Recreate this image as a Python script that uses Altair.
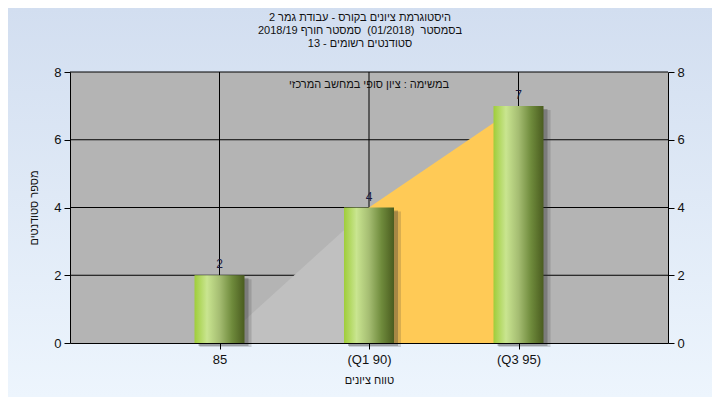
import altair as alt
import pandas as pd

# ---- data ----
categories = ["85", "(Q1 90)", "(Q3 95)"]
counts = [2, 4, 7]
grid_values = [2, 4, 6, 8]
low_shade_cats = ["85", "(Q1 90)"]
low_shade_vals = [0, 4]
mid_shade_cats = ["(Q1 90)", "(Q3 95)"]
mid_shade_vals = [4, 7]

title_lines = [
    "היסטוגרמת ציונים בקורס - עבודת גמר 2",
    "בסמסטר \u00a0(01/2018) \u00a0סמסטר חורף 2018/19",
    "סטודנטים רשומים - 13",
]
note_text = "במשימה : ציון סופי במחשב המרכזי"
x_title = "טווח ציונים"
y_title = "מספר סטודנטים"

W, H = 598, 271
PAD = {"left": 62, "top": 64, "right": 44, "bottom": 54}
FONT = "Liberation Sans"
HEB_SIZE = 11

bars_df = pd.DataFrame({"c": categories, "v": counts})
grid_df = pd.DataFrame({"v": grid_values})
low_df = pd.DataFrame({"c": low_shade_cats, "v": low_shade_vals})
mid_df = pd.DataFrame({"c": mid_shade_cats, "v": mid_shade_vals})
one_df = pd.DataFrame({"k": [0]})

xscale = alt.Scale(type="point", domain=categories, padding=1)
yscale = alt.Scale(domain=[0, 8], nice=False, zero=True)

x_axis = alt.Axis(
    title=x_title, grid=False, domainColor="#000", tickColor="#000", tickSize=6,
    labelFont=FONT, labelFontSize=13, labelColor="#111", labelPadding=4, labelAngle=0,
    titleFont=FONT, titleFontSize=HEB_SIZE, titleFontWeight="normal", titleColor="#111",
    titlePadding=8, zindex=2,
)
y_axis = alt.Axis(
    title=y_title, grid=False, values=[0, 2, 4, 6, 8], domainColor="#000", tickColor="#000",
    tickSize=6, labelFont=FONT, labelFontSize=13, labelColor="#111", labelPadding=3,
    titleFont=FONT, titleFontSize=HEB_SIZE, titleFontWeight="normal", titleColor="#111",
    titlePadding=14, zindex=2,
)
y_axis_r = alt.Axis(
    title=None, orient="right", grid=False, values=[0, 2, 4, 6, 8], domainColor="#000",
    tickColor="#000", tickSize=6, labelFont=FONT, labelFontSize=13, labelColor="#111",
    labelPadding=3, zindex=2,
)

X = alt.X("c:N", scale=xscale, axis=x_axis, sort=categories)
Y = alt.Y("v:Q", scale=yscale, axis=y_axis)

bg = alt.Chart(one_df).mark_rect(
    fill=alt.Gradient(gradient="linear", x1=0, x2=0, y1=0, y2=1,
                      stops=[alt.GradientStop(color="#d2def0", offset=0),
                             alt.GradientStop(color="#edf5fd", offset=1)])
).encode(x=alt.value(-PAD["left"]), x2=alt.value(W + PAD["right"]),
         y=alt.value(-PAD["top"]), y2=alt.value(H + PAD["bottom"]))

plotbg = alt.Chart(one_df).mark_rect(fill="#b4b4b4").encode(
    x=alt.value(0), x2=alt.value(W), y=alt.value(0), y2=alt.value(H))

hgrid = alt.Chart(grid_df).mark_rule(color="#000", strokeWidth=1).encode(y=Y)
vgrid = alt.Chart(bars_df).mark_rule(color="#000", strokeWidth=1).encode(x=X)

low_area = alt.Chart(low_df).mark_area(color="#c0c0c0", opacity=1).encode(x=X, y=Y)
mid_area = alt.Chart(mid_df).mark_area(color="#ffca56", opacity=1).encode(x=X, y=Y)

shadow1 = alt.Chart(bars_df).mark_bar(size=52, color="#303030", opacity=0.18,
                                      xOffset=6, yOffset=4).encode(x=X, y=Y)
shadow2 = alt.Chart(bars_df).mark_bar(size=50, color="#303030", opacity=0.3,
                                      xOffset=4, yOffset=3).encode(x=X, y=Y)

bars = alt.Chart(bars_df).mark_bar(
    size=50,
    fill=alt.Gradient(gradient="linear", x1=0, x2=1, y1=0, y2=0,
                      stops=[alt.GradientStop(color="#9fcd3a", offset=0),
                             alt.GradientStop(color="#c9e590", offset=0.25),
                             alt.GradientStop(color="#a5bd72", offset=0.5),
                             alt.GradientStop(color="#6f8b3c", offset=0.75),
                             alt.GradientStop(color="#4a5c1f", offset=1)]),
).encode(x=X, y=Y)

labels = alt.Chart(bars_df).mark_text(
    font=FONT, fontSize=12, color="#1a1a40", baseline="bottom", dy=-4
).encode(x=X, y=Y, text="v:Q")


def text_layer(txt, cx, cy):
    return alt.Chart(one_df).mark_text(
        font=FONT, fontSize=HEB_SIZE, color="#111", align="center", baseline="middle",
        text=txt,
    ).encode(x=alt.value(cx), y=alt.value(cy))


title_y = [18, 31, 44]
titles = [text_layer(t, 360 - 70, yy - 72) for t, yy in zip(title_lines, title_y)]
note = text_layer(note_text, W / 2, 85 - 72)

inner = alt.layer(bg, plotbg, hgrid, vgrid, low_area, mid_area, shadow1, shadow2,
                  bars, labels, note, *titles)

right = alt.Chart(grid_df).mark_rule(opacity=0).encode(
    y=alt.Y("v:Q", scale=yscale, axis=y_axis_r))

chart = alt.layer(inner, right).resolve_scale(y="independent").properties(
    width=W, height=H, padding=PAD, autosize=alt.AutoSizeParams(type="none"),
    background="#d8e3f3",
).configure_view(stroke=None)

chart.save("out.html", embed_options={"renderer": "svg", "actions": False})
